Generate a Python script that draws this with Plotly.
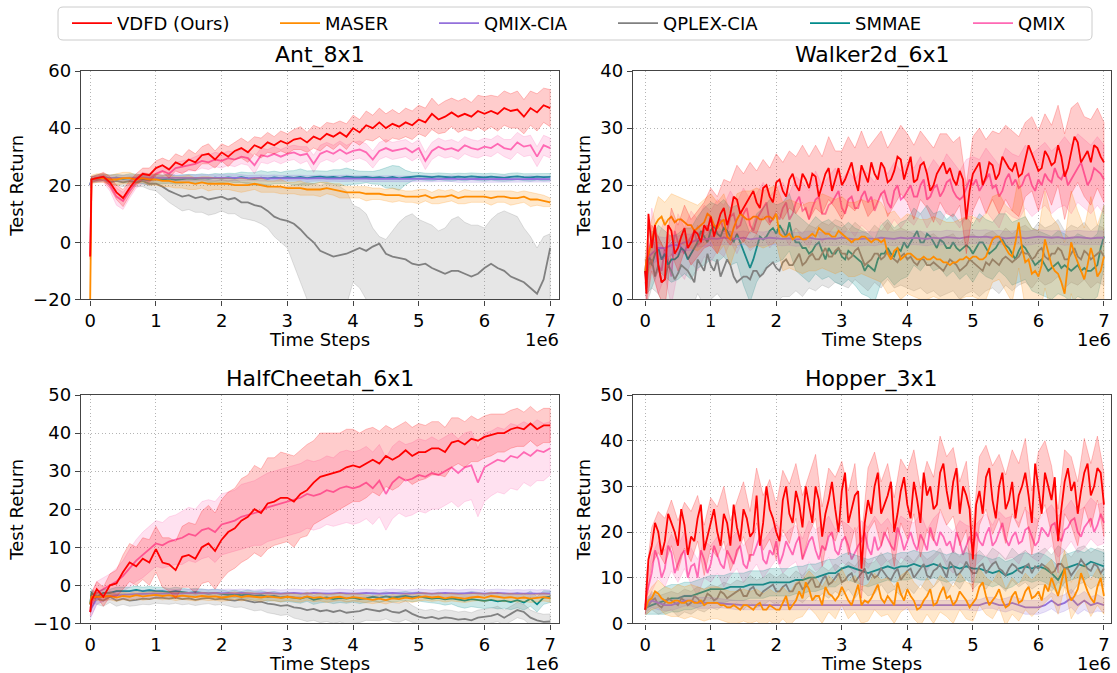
import plotly.graph_objects as go

# ---------------- sampling grids (units of 1e6 time steps) ----------------
STEPS = [0.0, 0.02] + [round(0.1 * k, 1) for k in range(1, 71)]
STEPS_FINE = [0.0, 0.02] + [round(0.05 * k, 2) for k in range(1, 141)]
X_TICKS = [0, 1, 2, 3, 4, 5, 6, 7]
X_TICK_TEXT = ["0", "1", "2", "3", "4", "5", "6", "7"]

METHODS = ["VDFD (Ours)", "MASER", "QMIX-CIA", "QPLEX-CIA", "SMMAE", "QMIX"]
COLORS = {"VDFD (Ours)": (255, 0, 0), "MASER": (255, 140, 0), "QMIX-CIA": (147, 112, 219),
          "QPLEX-CIA": (128, 128, 128), "SMMAE": (0, 139, 139), "QMIX": (255, 105, 180)}

# ---------------- Ant_8x1 ----------------
ANT_VDFD_MEAN = [-5, 22,
    22.5, 23, 21, 17.5, 15.5, 19, 22, 24, 23.5, 26,
    27, 25.5, 28, 27, 29, 28, 30.5, 31, 29, 31.5,
    30, 32, 33, 31.5, 34, 33, 35, 34, 35.5, 34.5,
    36, 36.5, 35, 37, 36, 38, 37, 38.5, 37, 40,
    38.5, 41, 40, 42, 40, 41.5, 40.5, 42, 41, 43,
    42, 45, 43, 44, 45.5, 44, 45, 44, 46, 45,
    46, 45, 47, 46, 46.5, 44, 47, 45.5, 48, 47]
ANT_VDFD_SD = [1, 1,
    1, 1.5, 2, 2.5, 3, 2.5, 2, 2, 2.5, 2.5,
    2.5, 3, 3, 3, 3.5, 3, 3, 3.5, 3, 3,
    3.5, 3, 3.5, 3.5, 3, 3.5, 3.5, 3, 3.5, 3.5,
    3.5, 4, 3.5, 4, 4, 4, 4.5, 4, 4.5, 4.5,
    4.5, 5, 4.5, 5, 5, 5, 4.5, 5, 5, 5,
    5, 5.5, 5, 5.5, 5, 5.5, 5.5, 5, 5.5, 6,
    5.5, 6, 6, 6, 6.5, 6, 6, 6.5, 6, 6.5]
ANT_QMIX_MEAN = [-5, 22,
    22, 22.5, 20, 16, 14.5, 18, 21, 22.5, 22, 24,
    25, 24, 26, 26.5, 27, 27.5, 28.5, 28, 29, 28.5,
    29.5, 29, 30, 29.5, 27, 30.5, 30, 31, 30, 31,
    31.5, 30.5, 31, 27.5, 31, 32, 31, 32.5, 31, 32,
    32.5, 31.5, 29, 32, 33, 32, 32.5, 33, 31.5, 33,
    28.5, 32, 33.5, 32.5, 33, 32, 34, 33, 32.5, 33.5,
    33, 34.5, 33, 32.5, 35, 33.5, 34, 30, 34, 33]
ANT_QMIX_SD = [1, 1,
    1, 1.5, 2, 3, 3, 2.5, 2, 2, 2, 2,
    2, 2, 2, 2, 2, 2.5, 2.5, 2.5, 2.5, 2.5,
    2.5, 2.5, 2.5, 2.5, 3, 2.5, 2.5, 2.5, 2.5, 2.5,
    2.5, 3, 2.5, 3, 3, 3, 3, 3, 3, 3,
    3, 3, 3, 3, 3, 3, 3, 3, 3, 3,
    3, 3, 3, 3, 3, 3, 3, 3, 3, 3,
    3, 3, 3, 3.5, 3.5, 3.5, 3.5, 3.5, 3.5, 3.5]
ANT_MASER_MEAN = [-20, 22,
    22.5, 22.5, 22, 22, 22.5, 22.5, 22, 22.5, 22, 22,
    21.5, 21.5, 21, 21, 21, 20.5, 21, 20.5, 20.5, 20.5,
    20.5, 20, 20, 20, 20.5, 20, 19.5, 19.5, 19.5, 19,
    19, 19, 18.5, 18.5, 18.5, 19, 18.5, 18, 17.5, 17.5,
    17.5, 17, 17, 17, 16.5, 16.5, 16.5, 16, 16, 16,
    16.5, 15.5, 16, 16, 16.5, 15.5, 16, 16, 16, 16,
    15.5, 16, 16, 15.5, 15.5, 16, 15, 15, 14.5, 14]
ANT_MASER_SD = [1, 1.5,
    1.5, 1.5, 1.5, 2, 2, 2, 1.5, 1.5, 2, 2,
    2, 2, 2, 2, 2.5, 2, 2, 2.5, 2, 2,
    2, 2, 2.5, 2, 2, 2.5, 2, 2, 2.5, 2,
    2, 2.5, 2, 2, 2.5, 2, 2, 2.5, 2, 2,
    2, 2.5, 2, 2, 2, 2.5, 2, 2, 2, 2.5,
    2, 2, 2.5, 2, 2, 2, 2.5, 2, 2, 2,
    2.5, 2, 2, 2.5, 2, 2, 2.5, 2, 2, 1.5]
ANT_QMIXCIA_MEAN = [20, 22,
    22.5, 22.5, 22.6, 22.4, 22.5, 22.6, 22.5, 22.7, 22.5, 22.6,
    22.6, 22.5, 22.7, 22.6, 22.5, 22.6, 22.7, 22.5, 22.6, 22.7,
    22.6, 22.5, 22.6, 22.4, 22.5, 22.6, 22.4, 22.5, 22.4, 22.5,
    22.4, 22.5, 22.3, 22.4, 22.5, 22.3, 22.4, 22.3, 22.4, 22.3,
    22.4, 22.3, 22.2, 22.3, 22.2, 22.3, 22.2, 22.3, 22.2, 22.2,
    22.3, 22.2, 22.1, 22.2, 22.3, 22.1, 22.2, 22.1, 22.2, 22.1,
    22.2, 22.1, 22.2, 22.1, 22.0, 22.1, 22.2, 22.1, 22.0, 22.1]
ANT_QMIXCIA_SD = [0.5, 1,
    1, 1, 1, 1.1, 1, 1, 1.1, 1, 1, 1,
    1, 1.1, 1, 1, 1, 1.1, 1, 1, 1, 1,
    1, 1, 1.1, 1, 1, 1, 1, 1.1, 1, 1,
    1, 1, 1, 1.1, 1, 1, 1, 1, 1.1, 1,
    1, 1, 1, 1, 1.1, 1, 1, 1, 1, 1,
    1.1, 1, 1, 1, 1, 1.1, 1, 1, 1, 1,
    1, 1, 1.1, 1, 1, 1, 1.1, 1, 1, 1]
ANT_SMMAE_MEAN = [20, 22,
    22.5, 22.8, 22.3, 22.6, 22.2, 22.5, 22.4, 22.0, 21.8, 22.2,
    22.0, 22.3, 21.9, 22.1, 22.4, 22.2, 22.5, 22.3, 22.6, 22.4,
    22.7, 22.5, 22.8, 22.4, 22.2, 22.6, 22.3, 22.7, 22.5, 22.8,
    22.6, 22.9, 22.5, 22.8, 23.0, 22.7, 22.9, 22.6, 23.0, 22.8,
    22.7, 22.9, 22.6, 22.8, 22.5, 22.9, 22.4, 22.7, 23.0, 23.2,
    23.0, 22.8, 23.1, 22.9, 22.7, 23.0, 22.8, 23.1, 22.9, 22.7,
    23.0, 22.8, 22.6, 22.9, 23.1, 22.8, 22.7, 23.0, 22.8, 22.9]
ANT_SMMAE_SD = [0.5, 1,
    1.2, 1.2, 1.3, 1.2, 1.3, 1.5, 1.5, 1.5, 1.8, 1.6,
    1.5, 1.6, 1.5, 1.5, 1.4, 1.5, 1.5, 1.4, 1.5, 1.5,
    1.5, 1.6, 1.8, 2, 2.2, 2.5, 2.3, 2.2, 2, 2.2,
    2.5, 2.8, 2.5, 2.3, 2, 2.2, 2.5, 2.8, 3, 2.5,
    2.2, 2, 2.2, 2.5, 3.5, 4, 4.2, 2.5, 1.5, 1.3,
    1.2, 1.3, 1.2, 1.2, 1.3, 1.2, 1.3, 1.2, 1.2, 1.3,
    1.2, 1.3, 1.2, 1.3, 1.2, 1.2, 1.3, 1.2, 1.3, 1.2]
ANT_QPLEX_MEAN = [20, 22,
    22, 22.5, 21, 21.5, 21, 21.5, 21, 21.5, 20.5, 20.5,
    19.5, 18, 17, 16, 16.5, 15.5, 16, 15, 15.5, 16,
    15, 15.5, 14, 14, 13, 12.5, 11, 9, 8, 7.5,
    6.5, 4.5, 2, 0, -3, -4, -5, -4.5, -4, -3,
    -2, -3, -1.5, -0.5, -4, -5, -5.5, -6, -7.5, -8,
    -7.5, -9, -10, -11, -10, -10, -11, -12, -11, -9,
    -7.5, -9, -10, -12, -13, -14, -16, -18, -13, -2]
ANT_QPLEX_HI = [21, 23,
    23, 23.5, 22.5, 23, 22.5, 23, 23, 23.5, 23, 23,
    23, 22.5, 22, 22, 22.5, 22, 22, 21.5, 21.5, 22,
    21.5, 22, 21, 21, 20.5, 20.5, 20, 19.5, 19, 19.5,
    20, 20.5, 21, 20.5, 20, 20.5, 20, 19.5, 18, 13,
    12, 10, 5, 2, 1, 4, 7, 9, 10, 8,
    7, 6, 4, 5, 8, 9, 7, 6, 6, 5,
    8, 10, 11, 10, 9, 5, 2, -2, 2, 3]
ANT_QPLEX_LO = [19, 21,
    21, 21.5, 20, 20, 19.5, 20, 19.5, 19.5, 18.5, 18,
    16, 14, 12.5, 11, 11.5, 10.5, 10.5, 9.5, 10, 11,
    10, 10, 8.5, 8, 7.5, 6.5, 5, 2, 0, -2,
    -8, -14, -20, -25, -30, -30, -30, -30, -22, -14,
    -16, -20, -25, -30, -30, -30, -30, -28, -25, -30,
    -30, -30, -30, -30, -30, -30, -30, -30, -30, -30,
    -30, -30, -30, -30, -30, -30, -30, -30, -30, -30]

# ---------------- Walker2d_6x1 (means on the fine 0.05e6 grid) ----------------
W_VDFD_MEAN = [5, 1,
    15, 9, 13, 6, 3, 3.5, 13, 12, 8, 9, 11, 12.5, 9, 10, 12, 11.5, 10, 13, 12, 14.5,
    11, 13, 15, 16, 13, 15, 18, 17.5, 15, 16, 17, 18, 19, 17, 16, 19.5, 20, 18, 17, 20.5,
    21, 19, 18, 21, 22, 20, 19, 22, 21, 19.5, 22, 21.5, 18, 20, 22, 23, 19, 21, 23, 20,
    21, 22.5, 24, 21, 19, 23.5, 22, 20.5, 24, 22, 21, 24, 23, 20.5, 21, 22.5, 25, 24.5, 21, 23,
    25, 20.5, 21, 23.5, 24, 22, 19, 20, 22, 23, 24, 22, 23, 21, 20, 22.5, 21, 14, 19, 22,
    23, 24, 20, 21.5, 24, 23.5, 21, 22, 25, 24, 23, 22.5, 24, 21.5, 22, 24.5, 27, 25.5, 24, 22.5,
    23, 26, 25, 23.5, 24, 27, 25, 21.5, 23, 26, 28.5, 27.5, 24, 25, 26, 24, 27, 26.5, 25, 24]
W_VDFD_SD = [2, 2,
    4, 5, 5, 4, 4, 4, 4, 4, 4, 5,
    5, 5, 5.5, 6, 6, 6, 5.5, 5, 5, 5,
    5, 5, 5, 5, 5.5, 5.5, 5, 5.5, 5, 6,
    6, 5.5, 6, 6, 6, 5.5, 6, 6, 6, 6,
    6.5, 6, 6, 6.5, 6, 7, 6.5, 6, 6, 6.5,
    6, 6.5, 6, 7, 6.5, 7, 7, 6.5, 6.5, 7,
    6.5, 7, 7, 7.5, 7.5, 7, 7, 7.5, 7, 7]
W_QMIX_MEAN = [5, 3,
    8, 11, 9, 6, 5, 9, 7, 4, 12, 10, 9, 8, 10, 11, 12, 9.5, 10, 12, 13, 11,
    11, 13, 14, 12, 12, 14.5, 15, 12.5, 13, 15, 16, 13, 12, 14, 15, 16, 17, 13.5, 14, 15,
    14, 16, 17, 14, 15, 17, 18, 15.5, 16, 14, 16, 17.5, 18, 15, 15, 16.5, 17, 18, 19, 16,
    15, 17.5, 18, 16, 16, 18, 19, 17, 18, 15.5, 17, 18.5, 19, 17, 16, 19, 20, 17.5, 18, 19,
    20, 18, 18, 20, 21, 17.5, 18, 19.5, 20, 18, 19, 20.5, 21, 19, 18, 17.5, 18, 19.5, 21, 20,
    21, 19, 20, 21, 22, 19.5, 20, 18, 19, 21, 22, 20, 21, 19.5, 20, 21.5, 22, 20, 19, 21,
    20, 22, 21, 20.5, 23, 21.5, 21, 22.5, 20, 21, 22, 23, 24, 22, 20, 21, 23, 22.5, 22, 21]
W_QMIX_SD = [2, 3,
    5, 5, 5, 5, 5, 4.5, 4.5, 4.5, 4.5, 4.5,
    4.5, 4.5, 4.5, 4.5, 4.5, 4.5, 4.5, 4.5, 4.5, 4.5,
    4.5, 4.5, 4.5, 5, 5, 5, 5, 5, 5, 5,
    5, 5, 5, 5, 5, 5, 5, 5, 5, 5,
    5, 5, 5, 5, 5, 5, 5, 5, 5, 5,
    5.5, 5.5, 5.5, 5.5, 5.5, 5.5, 5.5, 5.5, 5.5, 5.5,
    5.5, 5.5, 5.5, 6, 6, 6, 6, 6, 6, 6]
W_MASER_MEAN = [5, 7,
    8, 10, 13, 14, 14.5, 13, 14, 14.5, 13.5, 14, 14, 13.5, 13, 13, 12, 12.5, 13, 13.5, 15, 14.5,
    13, 12.5, 13.5, 14, 11, 10.5, 12.5, 14, 15, 14.5, 14, 14, 14.5, 14.5, 14, 14, 14.5, 14.5, 14, 15,
    11.5, 11, 11, 11.5, 10.5, 11, 11, 10.5, 10.5, 11, 11.5, 11, 12.5, 12, 11.5, 11.5, 11, 11, 12, 11.5,
    11, 10.5, 10, 10.5, 10.5, 11, 11, 10.5, 10, 10.5, 10.5, 10, 10.5, 8, 7, 8.5, 9, 7, 7.5, 8,
    8, 7.5, 7, 7, 7.5, 7, 7, 7.5, 7, 7, 6.5, 6.5, 6, 6.5, 6.5, 7, 7, 7.5, 7, 7.5,
    7.5, 7, 7, 7.5, 9, 10.5, 11, 11, 10, 9, 8, 7.5, 10, 13.5, 9, 6.5, 7, 4.5, 5, 4,
    6, 10.5, 8, 6, 5, 4.5, 3, 1, 6, 10, 8, 6.5, 5, 3.5, 6, 9, 7, 4, 5, 7.5]
W_MASER_SD = [2, 3,
    4, 4, 4, 4, 4, 4, 4, 4, 4, 4,
    4.5, 4.5, 4.5, 4.5, 4.5, 5, 5, 5, 5, 5,
    6, 6, 6, 6, 6, 6, 6.5, 6.5, 6.5, 6.5,
    6.5, 6.5, 6.5, 6.5, 7, 7, 7, 7, 7, 7,
    7, 7, 7, 7, 7, 7, 7, 7, 7, 7,
    7, 7.5, 7.5, 7.5, 7.5, 8, 8, 8, 8, 8,
    8.5, 8.5, 8.5, 9, 9, 9, 9, 9, 9, 9]
W_QMIXCIA_MEAN = [5, 7,
    8, 9, 9, 9.5, 9.5, 10, 10, 10.5, 10.5, 10.7,
    10.6, 10.8, 10.7, 10.6, 10.8, 10.5, 10.7, 10.6, 10.8, 10.7,
    10.6, 10.7, 10.5, 10.6, 10.8, 10.6, 10.5, 10.7, 10.6, 10.8,
    10.7, 10.5, 10.6, 10.7, 10.6, 10.8, 10.7, 10.6, 10.8, 10.7,
    10.8, 10.7, 10.6, 10.8, 10.7, 10.9, 10.8, 10.7, 10.9, 11,
    10.9, 11, 10.8, 10.9, 10.7, 10.8, 10.9, 10.7, 10.8, 11,
    10.9, 10.8, 10.9, 10.7, 10.8, 10.9, 10.8, 10.7, 10.8, 10.8]
W_QMIXCIA_SD = [2, 2,
    2, 2, 1.8, 1.8, 1.6, 1.5, 1.4, 1.3, 1.2, 1.2,
    1.2, 1.2, 1.2, 1.2, 1.2, 1.2, 1.2, 1.2, 1.2, 1.2,
    1.2, 1.2, 1.2, 1.2, 1.2, 1.2, 1.2, 1.2, 1.2, 1.2,
    1.2, 1.2, 1.2, 1.2, 1.2, 1.2, 1.2, 1.2, 1.2, 1.2,
    1.2, 1.2, 1.2, 1.2, 1.2, 1.2, 1.2, 1.2, 1.2, 1.2,
    1.2, 1.2, 1.2, 1.2, 1.2, 1.2, 1.2, 1.2, 1.2, 1.2,
    1.2, 1.2, 1.2, 1.2, 1.2, 1.2, 1.2, 1.2, 1.2, 1.2]
W_SMMAE_MEAN = [5, 4,
    8, 6, 8, 9, 7, 8, 6, 7, 7, 7.5, 9, 8.5, 7, 8, 9, 10, 12, 11, 10, 12,
    13, 11.5, 11, 12.5, 12, 11, 10, 11.5, 10, 8.5, 7, 5.5, 7, 9, 11, 10.5, 11, 12, 12.5, 11.5,
    13, 12, 11, 13.5, 11, 10, 10, 9, 9, 8, 8.5, 9.5, 10, 8.5, 7, 9, 8, 8, 9, 7.5,
    7, 8.5, 8, 7.5, 7, 6.5, 5, 6, 5.5, 5, 7, 8, 8, 9, 8, 7.5, 9, 8.5, 10, 9,
    10, 11, 12, 10, 10, 11.5, 11, 10, 9, 10.5, 10, 9, 9, 10, 9, 8.5, 9, 9.5, 9, 8,
    9, 10, 10, 9, 8, 8.5, 9, 10, 10.5, 9.5, 9, 8, 7, 8.5, 9.5, 9, 8, 7, 6, 6.5,
    7, 6, 5, 5.5, 6, 6.5, 5.5, 6, 5.5, 5, 5.5, 6, 5, 5.5, 5, 5, 5.5, 6, 9, 11]
W_SMMAE_SD = [2, 3,
    4, 4, 4, 4, 4, 4, 4.5, 4.5, 5, 5,
    5, 5, 5, 5, 6, 6, 6, 5.5, 5.5, 5,
    5, 5, 5, 5, 5, 5, 5, 5, 5, 5,
    5, 5, 5.5, 5.5, 5.5, 5, 5, 5, 5, 5,
    5, 5, 5, 5, 5, 5, 5, 5, 5, 5,
    5, 5, 5, 5, 5.5, 5.5, 5.5, 5.5, 5.5, 5.5,
    5.5, 5.5, 5.5, 5.5, 5.5, 5.5, 5.5, 5.5, 5.5, 5.5]
W_QPLEX_MEAN = [5, 2,
    6, 7, 4, 6, 3, 3.5, 6, 5, 3.5, 4.5, 6, 5.5, 5, 4, 3, 7, 6, 5, 8, 6,
    5, 7, 4, 5.5, 7, 6, 4, 3, 3.5, 4, 4, 3.5, 5, 5, 4, 4.5, 5.5, 6, 6.5, 5.5,
    5, 6.5, 7, 6, 6, 7, 8, 6, 6.5, 7.5, 8, 7, 7, 8, 9, 7.5, 7.5, 8.5, 9, 8,
    8, 7, 7.5, 8.5, 9, 7.5, 6, 6.5, 7, 8, 8, 7, 7.5, 8.5, 7.5, 7, 6.5, 7.5, 8, 7,
    7.5, 6.5, 6, 7, 7, 6, 6, 6.5, 6, 5.5, 5, 6, 7, 6.5, 6, 5, 5.5, 6, 7, 6.5,
    6, 5.5, 5, 6.5, 6, 7, 6.5, 6, 7, 7.5, 7, 6.5, 7, 7.5, 8.5, 8, 8, 7, 7.5, 8.5,
    9, 7.5, 7, 8, 8, 9, 8.5, 7, 7, 8, 9, 7.5, 7, 8.5, 8, 7, 7.5, 8, 8.5, 7.5]
W_QPLEX_SD = [2, 3,
    5, 5, 5, 5, 5.5, 6, 6, 6, 6, 6,
    6, 6, 6, 6, 6.5, 6.5, 6.5, 6, 6, 6,
    6, 5.5, 5.5, 5.5, 5.5, 5.5, 5.5, 5.5, 5.5, 5.5,
    5, 5, 5, 5, 5, 5, 5, 5, 5, 5,
    5, 5, 5, 5, 5, 5, 5, 5, 5, 5,
    5, 5, 5, 5, 5, 5, 5, 5, 5, 5,
    5, 5, 5, 5, 5, 5, 5, 5, 5, 5]

# ---------------- HalfCheetah_6x1 ----------------
HC_VDFD_MEAN = [-7, -4,
    -1, -3, 0, 0.5, 3.5, 6, 5, 7, 6, 9.5,
    6, 5.5, 4, 7.5, 8, 7, 10, 11, 9, 12,
    14, 15, 17, 18, 20, 19, 21.5, 22, 23, 23,
    22, 24, 25, 27, 28.5, 29, 29.5, 30, 31, 31.5,
    31, 32, 33, 32, 34, 33, 34, 35.5, 34, 35,
    35, 36, 36, 35, 37.5, 38, 37, 38.5, 38, 39,
    39.5, 40, 40, 41, 41.5, 41, 42.5, 41, 42, 42]
HC_VDFD_SD = [1, 2,
    2, 2.5, 3, 3.5, 4.5, 5, 5, 5.5, 6, 6,
    6.5, 7, 7.5, 8, 8.5, 9, 9.5, 10, 10, 10.5,
    10.5, 10.5, 11, 11, 11.5, 11.5, 12, 11.5, 12, 11.5,
    12, 11.5, 12, 11, 11.5, 11, 10.5, 10, 10, 9.5,
    9, 9, 8.5, 8.5, 8, 8, 8, 7.5, 7.5, 7.5,
    7, 7, 7, 6.5, 6.5, 6, 6, 6, 5.5, 5.5,
    5.5, 5, 5, 5, 5, 4.5, 4.5, 4.5, 4.5, 4.5]
HC_QMIX_MEAN = [-7, -5,
    -2, -1, 0, 1, 2.5, 4.5, 6.5, 8, 9.5, 11,
    10.5, 11.5, 12, 12.5, 13.5, 13, 14.5, 15, 14, 16,
    16.5, 17, 18, 18.5, 19, 19.5, 20.5, 21, 21.5, 22,
    22.5, 23, 24, 23.5, 24, 25, 24.5, 25.5, 26, 25.5,
    26, 27, 25.5, 27.5, 24, 27, 28.5, 27.5, 28, 29,
    28.5, 29.5, 29, 30, 31, 29.5, 31, 31.5, 27, 31,
    32, 33, 32.5, 34, 33.5, 35, 34, 35.5, 35, 36]
HC_QMIX_SD = [1, 3,
    3, 3, 3, 3.5, 4, 5, 5.5, 6, 6, 6,
    6, 6.5, 6.5, 7, 7, 7, 7.5, 7.5, 8, 8,
    8, 8, 8.5, 8.5, 8.5, 9, 9, 9, 9, 9,
    9, 9, 9, 9, 9, 9, 9, 9.5, 9.5, 9.5,
    9.5, 9.5, 9.5, 9.5, 9.5, 9.5, 9.5, 9.5, 9.5, 9.5,
    9.5, 9.5, 9, 9, 9, 9, 9, 9, 9, 9,
    8.5, 8.5, 8.5, 8.5, 8.5, 8, 8, 8, 7.5, 7]
HC_MASER_MEAN = [-5, -3,
    -3, -3, -2.8, -3.2, -2.8, -3, -2.6, -2.9, -2.7, -2.5,
    -2.8, -2.6, -3, -2.7, -2.9, -3.1, -2.8, -3, -2.9, -3.2,
    -3, -2.7, -3.1, -2.8, -3, -3.2, -2.9, -3.1, -3.3, -3,
    -3.2, -3.4, -2.9, -3.3, -3.1, -3.5, -3.2, -3, -3.4, -3.1,
    -3.3, -3.6, -3.8, -3.5, -3.9, -3.4, -3.6, -3.2, -3.5, -3.1,
    -2.9, -3.2, -3, -3.4, -3.1, -3.3, -3.5, -3.2, -3, -3.3,
    -2.8, -3, -3.3, -3.1, -3.4, -3.2, -3.5, -3.3, -3.1, -3.4]
HC_MASER_SD = [1, 1,
    1, 1, 1, 1, 1, 1, 1, 1, 1, 1,
    1, 1, 1, 1, 1, 1, 1, 1, 1, 1,
    1, 1, 1, 1, 1, 1, 1, 1, 1, 1,
    1, 1, 1, 1, 1, 1, 1, 1, 1, 1,
    1, 1, 1, 1, 1, 1, 1, 1, 1, 1,
    1, 1, 1, 1, 1, 1, 1, 1, 1, 1,
    1, 1, 1, 1, 1, 1, 1, 1, 1, 1]
HC_QMIXCIA_MEAN = [-7, -6,
    -3.5, -3, -2.8, -2.6, -2.5, -2.4, -2.3, -2.3, -2.2, -2.2,
    -2.2, -2.1, -2.2, -2.1, -2, -2.1, -2, -2.1, -2, -2.1,
    -2, -2.1, -2, -2.1, -2.2, -2.1, -2, -2.1, -2.2, -2.1,
    -2, -2.1, -2.2, -2, -2.1, -2.2, -2.1, -2, -2.1, -2.2,
    -2.1, -2, -2.1, -2.2, -2.1, -2, -2.1, -2.2, -2.1, -2,
    -2.1, -2.2, -2.1, -2, -2.1, -2.2, -2.1, -2, -2.1, -2.2,
    -2.1, -2, -2.1, -2.2, -2.1, -2.2, -2.1, -2.2, -2.1, -2.2]
HC_QMIXCIA_SD = [2, 2,
    1.5, 1.2, 1, 1, 1, 1, 1, 1, 1, 1,
    1, 1, 1, 1, 1, 1, 1, 1, 1, 1,
    1, 1, 1, 1, 1, 1, 1, 1, 1, 1,
    1, 1, 1, 1, 1, 1, 1, 1, 1, 1,
    1, 1, 1, 1, 1, 1, 1, 1, 1, 1,
    1, 1, 1, 1, 1, 1, 1, 1, 1, 1,
    1, 1, 1, 1, 1, 1, 1, 1, 1, 1]
HC_SMMAE_MEAN = [-5, -2,
    -3, -2, -2, -1.5, -1.5, -1.5, -1.2, -1.5, -1.3, -1.5,
    -1.5, -1.8, -1.5, -1.7, -2, -1.8, -2, -2.2, -2, -2.3,
    -2.5, -2.3, -2.6, -2.4, -2.8, -2.6, -3, -2.8, -3.2, -3,
    -3.3, -3.5, -3, -3.8, -3.4, -3.2, -3.6, -3.3, -3.5, -3.2,
    -3.6, -3.4, -3, -3.3, -2.9, -3.2, -3, -2.8, -3.1, -2.9,
    -3.2, -3.5, -3.3, -3.7, -3.4, -3.8, -4, -3.6, -3.9, -4.1,
    -3.8, -4.2, -4, -4.4, -3.9, -4.5, -3.5, -5, -3.2, -3]
HC_SMMAE_SD = [1, 1,
    1, 1, 1, 1, 1, 1, 1, 1, 1, 1,
    1, 1, 1, 1, 1, 1, 1, 1, 1, 1,
    1, 1, 1, 1.2, 1.2, 1.2, 1.2, 1.2, 1.2, 1.2,
    1.2, 1.2, 1.2, 1.2, 1.2, 1.2, 1.2, 1.2, 1.2, 1.2,
    1.2, 1.2, 1.2, 1.2, 1.2, 1.2, 1.2, 1.2, 1.2, 1.2,
    1.2, 1.2, 1.5, 1.5, 1.5, 1.8, 2, 2, 2, 2,
    2, 2, 2, 2, 2, 2, 2, 2, 1.8, 1.5]
HC_QPLEX_MEAN = [-5, -3,
    -3.5, -4, -3, -4, -3.5, -4, -3.8, -3.5, -3.6, -3.2,
    -3.3, -3.5, -3.2, -3.6, -3.4, -3.8, -3.5, -3.3, -3.7, -3.5,
    -3.8, -4, -3.7, -4.2, -4.5, -4.3, -4.8, -5, -5.4, -5.2,
    -5.8, -6, -6.5, -6.2, -6.8, -6.5, -7, -6.6, -7.2, -7,
    -6.8, -6.2, -6.5, -6.8, -6.3, -7, -7.2, -6.5, -7.5, -8.2,
    -8.6, -8.3, -8.8, -8.4, -8.6, -9, -8.8, -9.2, -8.5, -8.3,
    -8, -7.5, -8.5, -7.5, -6.5, -7, -8.5, -9.2, -9.6, -9.5]
HC_QPLEX_SD = [1, 1.5,
    1.5, 1.5, 1.5, 1.5, 1.5, 1.5, 1.5, 1.5, 1.5, 1.5,
    1.5, 1.5, 1.5, 1.5, 1.5, 1.5, 1.5, 1.5, 1.5, 1.5,
    1.5, 1.8, 2, 2, 2.2, 2.2, 2.4, 2.5, 2.5, 2.5,
    2.8, 3, 3, 3, 3, 3, 3, 3, 3, 3,
    3, 3, 2.8, 2.5, 2.5, 2.5, 2.5, 2.5, 2.2, 2,
    2, 2, 2, 2, 2, 2, 2, 2, 2, 2,
    2, 2, 2, 2, 2, 2, 2, 2, 2, 2]

# ---------------- Hopper_3x1 (noisy means on the fine 0.05e6 grid) ----------------
H_VDFD_MEAN = [3, 8,
    14, 17, 22, 20, 15, 18, 24, 22, 20, 17, 25, 21.5, 15, 19, 18, 23, 26, 16, 19, 22,
    25, 20, 17, 24, 22, 17, 26, 21, 18, 25, 23, 19, 20, 28, 17, 22, 30, 25, 23, 20,
    18, 27, 30, 24, 22, 29, 26, 21, 30, 26, 22, 30, 27, 19, 24, 27, 31, 25, 20, 29,
    33, 22, 25, 28, 29, 12, 22, 27, 24, 30, 33, 24, 26, 28, 31, 20, 24, 29, 32, 26,
    23, 31, 27, 22, 33, 28, 30, 25, 26, 33, 35, 29, 25, 31, 34, 24, 30, 28, 25, 14,
    26, 29, 24, 32, 34, 27, 23, 30, 33, 25, 27, 31, 23, 28, 30, 33, 28, 22, 35, 30,
    24, 33, 30, 27, 32, 18, 25, 31, 34, 29, 31, 24, 29, 33, 35, 28, 30, 34, 33, 26]
H_VDFD_SD = [1, 3,
    4, 4.5, 5, 5, 5.5, 5, 5.5, 5, 5.5, 5.5,
    5.5, 6, 5.5, 6, 6, 5.5, 6, 6, 6.5, 6,
    6.5, 6.5, 6, 7, 6.5, 7, 6.5, 7, 7, 6.5,
    7, 7, 6.5, 7, 7.5, 7, 7, 7.5, 7, 7.5,
    7, 7.5, 7.5, 7, 8, 7.5, 7.5, 7, 7.5, 7,
    7.5, 7, 7.5, 7, 7.5, 7, 7, 7.5, 7, 7.5,
    7, 7.5, 7, 7, 7.5, 7, 7.5, 7, 7, 7]
H_QMIX_MEAN = [3, 6,
    8, 11, 16, 14, 10, 12, 17, 15.5, 11, 13, 15, 16, 10, 12.5, 13, 10, 16, 14, 11, 13,
    17, 15, 13, 12, 16, 14.5, 13, 16, 17, 13, 12, 15, 15, 17, 19, 14, 13, 16, 15, 18,
    13, 15, 18, 16.5, 15, 17.5, 19, 14, 16, 18, 19, 16, 14, 17, 16, 19, 20, 16, 15, 18,
    19, 17, 14, 15.5, 17, 18, 20, 16.5, 15, 19, 16, 17, 20, 18.5, 17, 16, 21, 19, 16, 18,
    20, 17.5, 16, 19.5, 18, 16, 21, 18.5, 17, 20, 19, 17, 18, 15.5, 20, 18, 15, 17, 19, 16.5,
    20, 18, 17, 19.5, 21, 17, 18, 20, 22, 18.5, 17, 19, 20, 17.5, 18, 20.5, 21, 19, 17, 18,
    21, 20, 19, 21.5, 22, 19, 18, 20.5, 21, 22.5, 23, 20, 19, 21, 22, 23, 20, 21.5, 24, 22]
H_QMIX_SD = [1, 3,
    4, 4, 4, 4, 4, 4, 4, 4, 4, 4,
    4, 4, 4, 4, 4, 4, 4, 4, 4, 4,
    4, 4, 4, 4.5, 4.5, 4.5, 4.5, 4.5, 4.5, 4.5,
    4.5, 4.5, 4.5, 4.5, 4.5, 4.5, 4.5, 4.5, 4.5, 4.5,
    4.5, 4.5, 4.5, 4.5, 4.5, 4.5, 4.5, 4.5, 4.5, 4.5,
    4.5, 4.5, 4.5, 4.5, 4.5, 4.5, 4.5, 4.5, 4.5, 4.5,
    4.5, 4.5, 4.5, 4.5, 4.5, 4.5, 4.5, 4.5, 4.5, 4.5]
H_SMMAE_MEAN = [3, 3.5,
    4, 4.5, 5, 5.5, 5.5, 6, 6, 6.5, 7, 7.5,
    7.5, 7.5, 8, 8, 8, 8.5, 8.5, 8.5, 9, 9,
    9, 9, 9.5, 9.5, 10, 10, 10.5, 11, 11, 12,
    12.5, 12, 11.5, 11, 11.5, 12, 12.5, 12, 12.5, 12.5,
    13, 12.5, 12.5, 13, 12.5, 12, 12.5, 12, 12.5, 12,
    12, 11.5, 11, 11.5, 10.5, 11, 12, 12.5, 12, 12.5,
    12, 11, 9.5, 12, 12.5, 13, 12.5, 13.5, 13, 12.5]
H_SMMAE_SD = [1, 1.5,
    2, 2.5, 3, 3, 3, 3, 3, 3, 3, 3,
    3, 3, 3, 3, 3, 3, 3, 3, 3, 3,
    3, 3, 3, 3, 3, 3, 3, 3, 3, 3,
    3, 3, 3, 3, 3, 3, 3, 3, 3, 3,
    3, 3, 3, 3, 3, 3, 3, 3, 3, 3,
    3, 3, 3, 3, 3, 3, 3, 3, 3, 3,
    3, 3, 3, 3, 3, 3, 3, 3, 3, 3]
H_QPLEX_MEAN = [3, 3.5,
    4, 5, 5.5, 4, 3.5, 4.5, 5.5, 5, 4.5, 4, 5.5, 5, 4, 4.5, 6, 5.5, 4.5, 5, 6.5, 6,
    5, 5.5, 7, 6.5, 5.5, 6, 6.5, 7, 7.5, 6, 6, 7.5, 8, 6.5, 6, 7, 7.5, 8, 8.5, 7,
    7, 8, 8.5, 7, 7, 8.5, 9, 7.5, 8, 9, 10, 8, 8, 9.5, 10.5, 8.5, 9, 10, 11, 9,
    9.5, 10.5, 11, 9, 10, 11, 12, 9.5, 11, 10, 10.5, 12, 11, 10, 9.5, 11, 12, 9.5, 10.5, 11.5,
    12, 10, 11, 12, 13, 10.5, 10, 11.5, 12, 13, 11.5, 10, 13.5, 12.5, 10.5, 11, 12, 13.5, 12, 11,
    11, 12.5, 13, 11, 12, 13, 13.5, 12, 11.5, 10.5, 12, 13, 12.5, 11.5, 11, 12.5, 13, 11, 12.5, 12,
    13, 12.5, 12, 11, 11.5, 13, 13, 12, 12, 10.5, 11.5, 12.5, 14, 13, 12, 11.5, 13, 12.5, 11, 12]
H_QPLEX_SD = [1, 1.5,
    2, 2, 2, 2, 2.5, 2.5, 2.5, 2.5, 2.5, 2.5,
    2.5, 2.5, 2.5, 2.5, 3, 3, 3, 3, 3, 3,
    3, 3, 3, 3, 3, 3, 3, 3, 3, 3,
    3, 3.5, 3.5, 3.5, 3.5, 3.5, 3.5, 3.5, 3.5, 3.5,
    3.5, 3.5, 3.5, 3.5, 3.5, 3.5, 3.5, 3.5, 3.5, 3.5,
    3.5, 3.5, 3.5, 3.5, 3.5, 3.5, 3.5, 3.5, 3.5, 3.5,
    4, 4, 4, 4, 4, 4, 4, 4, 4, 4]
H_MASER_MEAN = [3, 4,
    5, 5.5, 7, 6.5, 5.5, 5, 4.5, 4.5, 5, 5, 4.5, 4.5, 5, 5, 4.5, 4.5, 5, 4, 4.5, 4.5,
    4.5, 4.5, 4, 4, 3.5, 3.5, 4, 3.5, 3, 4, 4, 3.5, 3, 4, 4.5, 3, 3, 4, 3.5, 3,
    3, 4.5, 6, 3, 4, 5, 7, 5.5, 9, 7.5, 5, 6, 6, 4, 8, 6.5, 6, 5, 6, 8,
    6.5, 5, 4, 6.5, 8.5, 4, 5, 4.5, 5.5, 7, 8.5, 5.5, 4.5, 6, 5, 4, 9, 6.5, 5, 7.5,
    6, 5, 3, 3.5, 5, 6, 7.5, 4, 4.5, 6.5, 8, 5.5, 6, 4, 5, 7, 6, 5, 3.5, 4.5,
    5.5, 8, 9, 6, 4, 5, 6, 7.5, 5, 3.5, 4, 6, 7, 4.5, 5, 7, 8, 5.5, 6, 7,
    5, 8.5, 7, 10, 8, 6, 9, 12, 7, 5, 6, 7.5, 11, 9, 7, 5.5, 4.5, 8, 10, 6]
H_MASER_SD = [1, 2,
    2.5, 3, 3, 3, 3.5, 3.5, 3.5, 3.5, 3.5, 3.5,
    3.5, 3.5, 3.5, 3.5, 3.5, 3.5, 3.5, 3.5, 3.5, 3.5,
    3.5, 3.5, 4, 4, 4, 4, 4, 4, 4, 4,
    4, 4, 4, 4, 4, 4, 4, 4, 4, 4,
    4, 4, 4, 4, 4, 4, 4, 4, 4, 4,
    4, 4, 4, 4, 4, 4, 4, 4, 4, 4,
    4, 4, 4, 4, 4, 4, 4, 4, 4, 4]
H_QMIXCIA_MEAN = [3, 4,
    5, 4.5, 4, 4, 4.5, 5, 5, 4.5, 4.5, 4.5,
    4.5, 4.3, 4.2, 4, 4, 4, 4, 4, 4, 4,
    4, 4, 4, 4, 4, 4, 4, 4, 4, 4,
    4, 4, 4, 4, 4, 4, 4, 4, 4, 4,
    4, 4, 4, 4, 4, 4, 4, 4, 4, 4,
    4, 4.5, 4.5, 4, 4, 4.5, 4, 3.5, 3.5, 3.5,
    4, 5, 4, 4.5, 5.5, 4, 5, 4, 4.5, 4]
H_QMIXCIA_SD = [1, 1.5,
    1.5, 1.5, 1.2, 1.2, 1.2, 1.2, 1.2, 1.2, 1.2, 1.2,
    1, 1, 1, 1, 1, 1, 1, 1, 1, 1,
    1, 1, 1, 1, 1, 1, 1, 1, 1, 1,
    1, 1, 1, 1, 1, 1, 1, 1, 1, 1,
    1, 1, 1, 1, 1, 1, 1, 1, 1, 1.2,
    1.2, 1.2, 1.2, 1.2, 1.5, 1.5, 1.5, 1.5, 1.5, 1.5,
    1.5, 1.8, 1.8, 1.8, 2, 2, 2, 1.8, 1.8, 1.5]

PANELS = [
    dict(title="Ant_8x1", yrange=[-20, 60], yticks=[-20, 0, 20, 40, 60],
         series={"VDFD (Ours)": (ANT_VDFD_MEAN, ANT_VDFD_SD), "MASER": (ANT_MASER_MEAN, ANT_MASER_SD),
                 "QMIX-CIA": (ANT_QMIXCIA_MEAN, ANT_QMIXCIA_SD), "SMMAE": (ANT_SMMAE_MEAN, ANT_SMMAE_SD),
                 "QMIX": (ANT_QMIX_MEAN, ANT_QMIX_SD), "QPLEX-CIA": (ANT_QPLEX_MEAN, None)},
         bands={"QPLEX-CIA": (ANT_QPLEX_LO, ANT_QPLEX_HI)}),
    dict(title="Walker2d_6x1", yrange=[0, 40], yticks=[0, 10, 20, 30, 40],
         series={"VDFD (Ours)": (W_VDFD_MEAN, W_VDFD_SD), "MASER": (W_MASER_MEAN, W_MASER_SD),
                 "QMIX-CIA": (W_QMIXCIA_MEAN, W_QMIXCIA_SD), "QPLEX-CIA": (W_QPLEX_MEAN, W_QPLEX_SD),
                 "SMMAE": (W_SMMAE_MEAN, W_SMMAE_SD), "QMIX": (W_QMIX_MEAN, W_QMIX_SD)}, bands={}),
    dict(title="HalfCheetah_6x1", yrange=[-10, 50], yticks=[-10, 0, 10, 20, 30, 40, 50],
         series={"VDFD (Ours)": (HC_VDFD_MEAN, HC_VDFD_SD), "MASER": (HC_MASER_MEAN, HC_MASER_SD),
                 "QMIX-CIA": (HC_QMIXCIA_MEAN, HC_QMIXCIA_SD), "QPLEX-CIA": (HC_QPLEX_MEAN, HC_QPLEX_SD),
                 "SMMAE": (HC_SMMAE_MEAN, HC_SMMAE_SD), "QMIX": (HC_QMIX_MEAN, HC_QMIX_SD)}, bands={}),
    dict(title="Hopper_3x1", yrange=[0, 50], yticks=[0, 10, 20, 30, 40, 50],
         series={"VDFD (Ours)": (H_VDFD_MEAN, H_VDFD_SD), "MASER": (H_MASER_MEAN, H_MASER_SD),
                 "QMIX-CIA": (H_QMIXCIA_MEAN, H_QMIXCIA_SD), "QPLEX-CIA": (H_QPLEX_MEAN, H_QPLEX_SD),
                 "SMMAE": (H_SMMAE_MEAN, H_SMMAE_SD), "QMIX": (H_QMIX_MEAN, H_QMIX_SD)}, bands={}),
]

# ---------------- layout geometry (pixels of a 1117 x 673 canvas) ----------------
W, H = 1117, 673
X_DOMAINS = [(80.8 / W, 559.0 / W), (632.8 / W, 1110.5 / W)]
Y_DOMAINS = [(1 - 299.4 / H, 1 - 71.0 / H), (1 - 623.4 / H, 1 - 395.0 / H)]
X_RANGES = [[-0.143e6, 7.134e6], [-0.189e6, 7.10e6]]
FONT = "DejaVu Sans"
AXIS_COLOR = "#444444"
GRID_COLOR = "#b4b4b4"
DRAW_ORDER = ["QMIX", "SMMAE", "QPLEX-CIA", "QMIX-CIA", "MASER", "VDFD (Ours)"]
LEGEND_WIDTHS = {"VDFD (Ours)": 153, "MASER": 104, "QMIX-CIA": 124, "QPLEX-CIA": 137, "SMMAE": 108, "QMIX": 50}

fig = go.Figure()
xs_coarse = [s * 1e6 for s in STEPS]
xs_fine = [s * 1e6 for s in STEPS_FINE]

for i, panel in enumerate(PANELS):
    col, row = i % 2, i // 2
    ax = "" if i == 0 else str(i + 1)
    xref, yref = "x" + ax, "y" + ax
    for m in DRAW_ORDER:
        r, g, b = COLORS[m]
        mean, sd = panel["series"][m]
        fine = len(mean) == len(STEPS_FINE)
        centre = mean[:2] + mean[3::2] if fine else mean
        if m in panel["bands"]:
            lo, hi = panel["bands"][m]
        else:
            lo = [a - s for a, s in zip(centre, sd)]
            hi = [a + s for a, s in zip(centre, sd)]
        fig.add_trace(go.Scatter(
            x=xs_coarse + xs_coarse[::-1], y=hi + lo[::-1], fill="toself", mode="lines",
            fillcolor=f"rgba({r},{g},{b},0.2)", line=dict(color=f"rgba({r},{g},{b},0.22)", width=1),
            hoverinfo="skip", showlegend=False, xaxis=xref, yaxis=yref))
        fig.add_trace(go.Scatter(
            x=xs_fine if fine else xs_coarse, y=mean, mode="lines", name=m,
            line=dict(color=f"rgb({r},{g},{b})", width=1.8),
            showlegend=(i == 0), legendrank=METHODS.index(m) + 1,
            legendwidth=LEGEND_WIDTHS[m], xaxis=xref, yaxis=yref))

    common = dict(showline=True, mirror=True, linecolor=AXIS_COLOR, linewidth=1.2,
                  ticks="outside", ticklen=5, tickwidth=1.2, tickcolor=AXIS_COLOR,
                  showgrid=True, gridcolor=GRID_COLOR, griddash="1px,2.5px", gridwidth=1,
                  zeroline=False, automargin=False,
                  tickfont=dict(family=FONT, size=18, color="black"))
    fig.layout["xaxis" + ax] = dict(
        domain=X_DOMAINS[col], range=X_RANGES[col], anchor=yref,
        tickvals=[t * 1e6 for t in X_TICKS], ticktext=X_TICK_TEXT, **common)
    fig.layout["yaxis" + ax] = dict(
        domain=Y_DOMAINS[row], range=panel["yrange"], anchor=xref, tickvals=panel["yticks"],
        title=dict(text="Test Return", font=dict(family=FONT, size=18, color="black"), standoff=4),
        **common)
    # subplot title
    fig.add_annotation(text=panel["title"], xref="paper", yref="paper",
                       x=sum(X_DOMAINS[col]) / 2, y=Y_DOMAINS[row][1], xanchor="center", yanchor="bottom",
                       yshift=1, showarrow=False, font=dict(family=FONT, size=22, color="black"))
    # x-axis title
    fig.add_annotation(text="Time Steps", xref=xref + " domain", yref=yref + " domain", x=0.5, y=0,
                       xanchor="center", yanchor="middle", yshift=-40, showarrow=False,
                       font=dict(family=FONT, size=18, color="black"))
    # offset text
    fig.add_annotation(text="1e6", xref=xref + " domain", yref=yref + " domain", x=1, y=0,
                       xanchor="right", yanchor="middle", yshift=-40, xshift=2, showarrow=False,
                       font=dict(family=FONT, size=18, color="black"))

# legend frame (rounded rectangle)
bx0, bx1, by0, by1, rad = 58, 1092, 7, 40, 5
def px(x): return x / W
def py(y): return 1 - y / H
path = (f"M{px(bx0 + rad)},{py(by0)} L{px(bx1 - rad)},{py(by0)} Q{px(bx1)},{py(by0)} {px(bx1)},{py(by0 + rad)} "
        f"L{px(bx1)},{py(by1 - rad)} Q{px(bx1)},{py(by1)} {px(bx1 - rad)},{py(by1)} "
        f"L{px(bx0 + rad)},{py(by1)} Q{px(bx0)},{py(by1)} {px(bx0)},{py(by1 - rad)} "
        f"L{px(bx0)},{py(by0 + rad)} Q{px(bx0)},{py(by0)} {px(bx0 + rad)},{py(by0)} Z")
fig.add_shape(type="path", path=path, xref="paper", yref="paper",
              line=dict(color="#cccccc", width=1), fillcolor="rgba(255,255,255,0.8)")

fig.update_layout(
    width=W, height=H, margin=dict(l=0, r=0, t=0, b=0, autoexpand=False),
    paper_bgcolor="white", plot_bgcolor="white",
    font=dict(family=FONT, size=18, color="black"),
    showlegend=True,
    legend=dict(orientation="h", x=67 / W, xanchor="left", y=1 - 23.5 / H, yanchor="middle",
                itemwidth=40, bgcolor="rgba(0,0,0,0)", borderwidth=0,
                font=dict(family=FONT, size=18, color="black"), traceorder="normal"),
)

fig.write_html("out.html", config={"displayModeBar": False},
               post_script="document.body.style.margin='0';document.body.style.overflow='hidden';")
